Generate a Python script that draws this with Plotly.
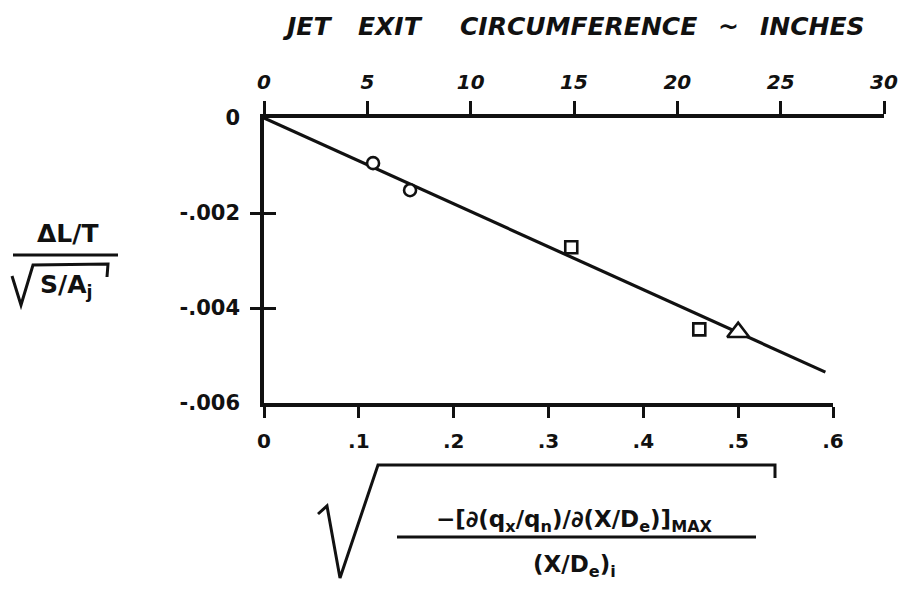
import plotly.graph_objects as go

# ---- data -------------------------------------------------------------
# bottom axis: sqrt of normalised maximum pressure-decay gradient
ratio_ticks = [0.0, 0.1, 0.2, 0.3, 0.4, 0.5, 0.6]
ratio_labels = ["0", ".1", ".2", ".3", ".4", ".5", ".6"]

# top axis: jet exit circumference, inches
circ_ticks = [0, 5, 10, 15, 20, 25, 30]
circ_labels = ["0", "5", "10", "15", "20", "25", "30"]

# left axis: lift loss parameter
lift_ticks = [0.0, -0.002, -0.004, -0.006]
lift_labels = ["0", "-.002", "-.004", "-.006"]
lift_cross_ticks = [-0.002, -0.004]

# measured points, grouped by nozzle family
circle_x = [0.115, 0.154]
circle_y = [-0.00095, -0.00152]
square_x = [0.324, 0.459]
square_y = [-0.00272, -0.00445]
triangle_x = [0.500]
triangle_y = [-0.00451]

# faired line through the origin
fit_x = [0.0, 0.592]
fit_y = [0.0, -0.00535]

# ---- page geometry ----------------------------------------------------
W, H = 898, 591
ML, MR, MT, MB = 264, 14, 118, 188
PW, PH = W - ML - MR, H - MT - MB
BOTTOM_END = 833  # pixel where the .6 tick sits

def px(x):
    return (x - ML) / PW

def py(y):
    return (H - MB - y) / PH

def path(points):
    return "M " + " L ".join(f"{px(a):.5f},{py(b):.5f}" for a, b in points)

INK = "#111111"
FONT = "DejaVu Sans"

fig = go.Figure()

fig.add_trace(go.Scatter(
    x=fit_x, y=fit_y, mode="lines",
    line=dict(color=INK, width=3.2),
    hoverinfo="skip", showlegend=False))

marker_line = dict(color=INK, width=2.6)
fig.add_trace(go.Scatter(
    x=circle_x, y=circle_y, mode="markers",
    marker=dict(symbol="circle", size=12, color="white", line=marker_line),
    showlegend=False))
fig.add_trace(go.Scatter(
    x=square_x, y=square_y, mode="markers",
    marker=dict(symbol="square", size=12, color="white", line=marker_line),
    showlegend=False))
fig.add_trace(go.Scatter(
    x=triangle_x, y=triangle_y, mode="markers",
    marker=dict(symbol="triangle-up", size=19, color="white", line=marker_line),
    showlegend=False))

# carrier for the top (circumference) axis
fig.add_trace(go.Scatter(
    x=[circ_ticks[0], circ_ticks[-1]], y=[0, 0], xaxis="x2", yaxis="y",
    mode="markers", marker=dict(opacity=0), hoverinfo="skip", showlegend=False))

tick_font = dict(family=FONT, size=20, color=INK, weight="bold")
axis_common = dict(showgrid=False, zeroline=False, showline=True, automargin=False,
                   linecolor=INK, linewidth=3.5, tickcolor=INK, tickwidth=3)

fig.update_layout(
    width=W, height=H,
    margin=dict(l=ML, r=MR, t=MT, b=MB, pad=0, autoexpand=False),
    paper_bgcolor="white", plot_bgcolor="rgba(0,0,0,0)",
    showlegend=False,
    xaxis=dict(
        **axis_common,
        domain=[0, (BOTTOM_END - ML) / PW], range=[ratio_ticks[0], ratio_ticks[-1]],
        anchor="y", side="bottom",
        ticks="outside", ticklen=11,
        tickmode="array", tickvals=ratio_ticks, ticktext=ratio_labels,
        tickfont=tick_font, ticklabelstandoff=6),
    xaxis2=dict(
        **axis_common,
        domain=[0, 1], range=[circ_ticks[0], circ_ticks[-1]],
        anchor="y", side="top",
        ticks="outside", ticklen=13,
        tickmode="array", tickvals=circ_ticks, ticktext=circ_labels,
        tickfont=dict(family=FONT, size=20, color=INK, weight="bold", style="italic"),
        ticklabelstandoff=4),
    yaxis=dict(
        **axis_common,
        domain=[0, 1], range=[lift_ticks[-1], lift_ticks[0]],
        anchor="x", side="left",
        ticks="inside", ticklen=12,
        tickmode="array", tickvals=lift_ticks, ticktext=lift_labels,
        tickfont=dict(family=FONT, size=21, color=INK, weight="bold"),
        ticklabelstandoff=16,
        minor=dict(ticks="outside", ticklen=10, tickwidth=3, tickcolor=INK,
                   tickvals=lift_cross_ticks, showgrid=False)),
)

# ---- top title --------------------------------------------------------
title_font = dict(family=FONT, size=25, color=INK, weight="bold", style="italic")
for word, cx in [("JET", 307), ("EXIT", 390), ("CIRCUMFERENCE", 578),
                 ("~", 728), ("INCHES", 812)]:
    fig.add_annotation(text=word, x=px(cx), y=py(27), xref="paper", yref="paper",
                       showarrow=False, xanchor="center", yanchor="middle",
                       font=title_font)

# ---- left axis title: (ΔL/T) / sqrt(S/Aj) -----------------------------
label_font = dict(family=FONT, size=25, color=INK, weight="bold")
fig.add_annotation(text="ΔL/T", x=px(67), y=py(233), xref="paper", yref="paper",
                   showarrow=False, xanchor="center", yanchor="middle", font=label_font)
fig.add_annotation(text="S/A<sub>j</sub>", x=px(66), y=py(286), xref="paper", yref="paper",
                   showarrow=False, xanchor="center", yanchor="middle", font=label_font)

# ---- bottom axis title: sqrt( -[d(qx/qn)/d(X/De)]max / (X/De)i ) ------
xt_font = dict(family=FONT, size=23, color=INK, weight="bold")
fig.add_annotation(text="−[∂(q<sub>x</sub>/q<sub>n</sub>)/∂(X/D<sub>e</sub>)]<sub>MAX</sub>",
                   x=px(574), y=py(521), xref="paper", yref="paper",
                   showarrow=False, xanchor="center", yanchor="middle", font=xt_font)
fig.add_annotation(text="(X/D<sub>e</sub>)<sub>i</sub>",
                   x=px(574), y=py(566), xref="paper", yref="paper",
                   showarrow=False, xanchor="center", yanchor="middle", font=xt_font)

stroke = dict(color=INK, width=3)
shapes = [
    # fraction bar and radical, left title
    dict(type="line", x0=px(13), x1=px(118), y0=py(255), y1=py(255)),
    dict(type="path", path=path([(12, 276), (21, 305), (33, 265), (108, 264), (107, 277)])),
    # fraction bar and radical, bottom title
    dict(type="line", x0=px(397), x1=px(756), y0=py(537), y1=py(537)),
    dict(type="path", path=path([(318, 514), (327, 506), (340, 578), (378, 465),
                                 (775, 465), (775, 478)])),
]
for s in shapes:
    fig.add_shape(**s, xref="paper", yref="paper", line=stroke, layer="above")

fig.write_html("out.html")
